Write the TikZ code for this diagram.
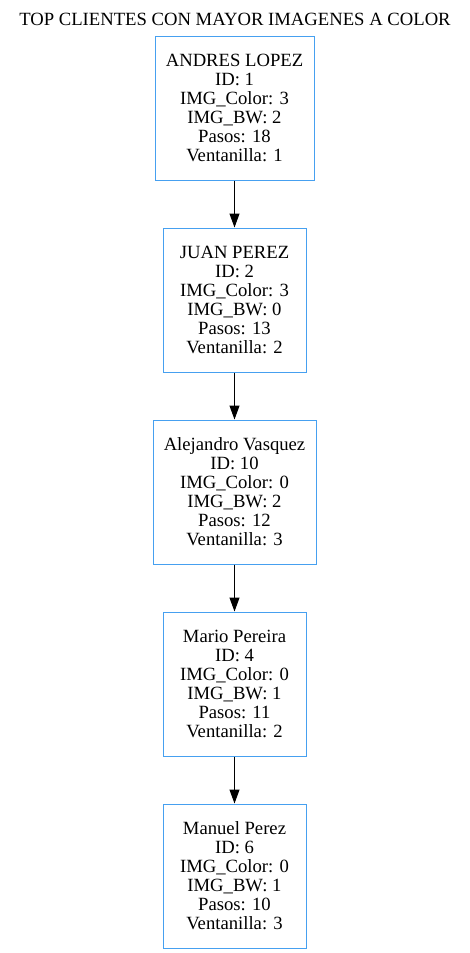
\documentclass[tikz,border=0pt]{standalone}
\usepackage{fontspec}
\setmainfont{Liberation Serif}
\usetikzlibrary{arrows.meta}
\definecolor{boxblue}{RGB}{70,160,240}
\tikzset{
  cliente/.style={draw=boxblue, line width=0.75pt, rectangle, align=center,
    minimum height=108pt, inner sep=0pt,
    font=\fontsize{14pt}{14.25pt}\selectfont},
  flecha/.style={-{Triangle[length=10.5pt,width=7.5pt]}, line width=0.75pt}
}
\begin{document}
\begin{tikzpicture}[x=0.75pt,y=-0.75pt]
            \useasboundingbox (0,0) rectangle (469,953);
            \node[inner sep=0pt] (titulo) at (235,19.5) {\fontsize{14pt}{14.25pt}\selectfont TOP CLIENTES CON MAYOR IMAGENES A COLOR};
            \node[cliente, minimum width=119.25pt] (c1) at (234.5,108) {ANDRES LOPEZ\\ID: 1\\IMG\_Color: 3\\IMG\_BW: 2\\Pasos: 18\\Ventanilla: 1};
            \node[cliente, minimum width=107.25pt] (c2) at (234.5,300) {JUAN PEREZ\\ID: 2\\IMG\_Color: 3\\IMG\_BW: 0\\Pasos: 13\\Ventanilla: 2};
            \node[cliente, minimum width=122.25pt] (c3) at (234.5,492) {Alejandro Vasquez\\ID: 10\\IMG\_Color: 0\\IMG\_BW: 2\\Pasos: 12\\Ventanilla: 3};
            \node[cliente, minimum width=107.25pt] (c4) at (234.5,684) {Mario Pereira\\ID: 4\\IMG\_Color: 0\\IMG\_BW: 1\\Pasos: 11\\Ventanilla: 2};
            \node[cliente, minimum width=107.25pt] (c5) at (234.5,876) {Manuel Perez\\ID: 6\\IMG\_Color: 0\\IMG\_BW: 1\\Pasos: 10\\Ventanilla: 3};
            \draw[flecha] (c1) -- (c2);
            \draw[flecha] (c2) -- (c3);
            \draw[flecha] (c3) -- (c4);
            \draw[flecha] (c4) -- (c5);
        \end{tikzpicture}
\end{document}
